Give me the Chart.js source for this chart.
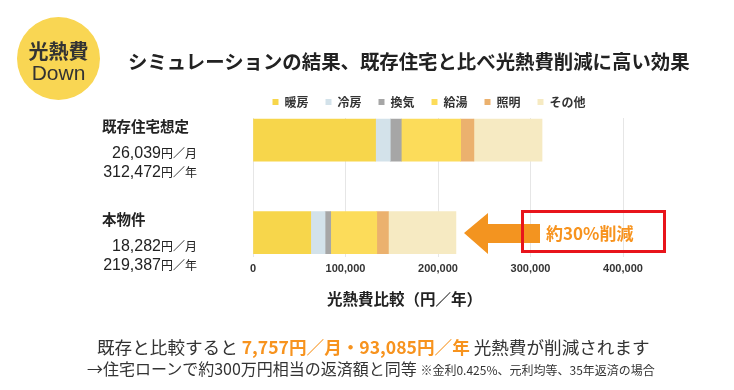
<!DOCTYPE html>
<html lang="ja">
<head>
<meta charset="utf-8">
<script src="https://cdn.jsdelivr.net/npm/chart.js@4"></script>
<style>
  html, body { margin: 0; padding: 0; background: #ffffff; }
  body { width: 734px; height: 390px; position: relative; overflow: hidden;
         font-family: "Noto Sans CJK JP", "Noto Sans", sans-serif; color: #333; }
  #wrap { position: absolute; left: 0; top: 0; width: 734px; height: 390px; }
  .abs { position: absolute; white-space: nowrap; line-height: 1; }
  #badge { position: absolute; left: 17px; top: 17px; width: 83px; height: 83px; border-radius: 50%;
           background: #F9D653; }
  #badge .l1 { position: absolute; left: 0; width: 83px; text-align: center; top: 19px; font-size: 20px; font-weight: 700; color: #333; }
  #badge .l2 { position: absolute; left: 0; width: 83px; text-align: center; top: 44px; font-size: 21px; font-family: "Liberation Sans", Arial, sans-serif; color: #333; }
  #title { left: 128px; top: 51px; font-size: 19.4px; font-weight: 700; color: #222; }
  .cat { font-size: 14.5px; font-weight: 700; color: #222; }
  .cost { font-family: "Liberation Sans", Arial, "Noto Sans CJK JP", sans-serif; font-size: 16px; color: #222; text-align: right; width: 100px; }
  .cost small { font-family: "Noto Sans CJK JP", sans-serif; font-size: 12px; }
  #axisTitle { left: 327px; top: 291px; font-size: 15.5px; font-weight: 700; color: #222; }
  #box { position: absolute; left: 521px; top: 210px; width: 139px; height: 37px; border: 3px solid #E8141B; }
  #boxText { left: 546px; top: 224px; font-size: 17px; font-weight: 700; color: #F7931E; }
  #line1 { left: 97px; top: 338px; font-size: 17.6px; color: #333; }
  #line1 b { color: #F7931E; }
  #line2 { left: 87px; top: 360px; font-size: 16px; color: #333; }
  #line2 small { font-size: 12px; }
</style>
</head>
<body>
<div id="wrap">
  <canvas id="chart" width="734" height="390"></canvas>
</div>
<div id="badge"><div class="l1">光熱費</div><div class="l2">Down</div></div>
<div id="title" class="abs">シミュレーションの結果、既存住宅と比べ光熱費削減に高い効果</div>
<div id="axisTitle" class="abs">光熱費比較（円／年）</div>
<svg class="abs" style="left:0;top:0" width="734" height="390">
  <polygon points="464,233 488,213 488,224 540,224 540,243 488,243 488,254" fill="#F39420"/>
</svg>
<div id="box"></div>
<div id="boxText" class="abs">約30%削減</div>
<div id="line1" class="abs">既存と比較すると <b>7,757円／月・93,085円／年</b> 光熱費が削減されます</div>
<div id="line2" class="abs">→住宅ローンで約300万円相当の返済額と同等 <small>※金利0.425%、元利均等、35年返済の場合</small></div>
<div id="catLabels"></div>

<script>
// ---- data ----
const categories = ['既存住宅想定', '本物件'];
const monthlyCost = ['26,039', '18,282'];
const annualCost = ['312,472', '219,387'];
const seriesNames = ['暖房', '冷房', '換気', '給湯', '照明', 'その他'];
const heating     = [132500, 62400];
const cooling     = [15900, 15500];
const ventilation = [11900, 6100];
const hotWater    = [64200, 49800];
const lighting    = [14300, 12600];
const other       = [73672, 72987];
const xTickValues = [0, 100000, 200000, 300000, 400000];

const seriesValues = [heating, cooling, ventilation, hotWater, lighting, other];
const seriesColors = ['#F7D64B', '#D3E2EA', '#A6A6A6', '#FCDC5A', '#EBB16E', '#F6EAC2'];

const datasets = seriesNames.map((name, s) => ({
  label: name,
  data: seriesValues[s].map((v, i) => ({ x: v, y: i })),
  backgroundColor: seriesColors[s],
  borderWidth: 0,
  barThickness: 42
}));

const chart = new Chart(document.getElementById('chart'), {
  type: 'bar',
  data: { datasets },
  options: {
    indexAxis: 'y',
    responsive: false,
    animation: false,
    devicePixelRatio: 1,
    layout: { padding: { left: 235, right: 111, top: 79, bottom: 108 } },
    plugins: {
      tooltip: { enabled: false },
      legend: {
        position: 'top',
        align: 'center',
        labels: {
          boxWidth: 6, boxHeight: 6, padding: 17,
          color: '#333',
          font: { family: '"Noto Sans CJK JP", sans-serif', size: 12, weight: 'bold' }
        }
      }
    },
    scales: {
      x: {
        type: 'linear',
        stacked: true,
        min: xTickValues[0],
        max: xTickValues[xTickValues.length - 1],
        afterBuildTicks: (scale) => { scale.ticks = xTickValues.map(v => ({ value: v })); },
        grid: { color: '#E6E6E6', lineWidth: 1, drawTicks: false },
        border: { display: false },
        ticks: {
          padding: 6,
          color: '#333',
          font: { family: '"Liberation Sans", Arial, sans-serif', size: 11, weight: 'bold' },
          callback: (v) => Number(v).toLocaleString('en-US')
        }
      },
      y: {
        type: 'linear',
        stacked: true,
        reverse: true,
        offset: false,
        min: -0.239,
        max: categories.length - 1 + 0.261,
        display: true,
        grid: { display: false, offset: false },
        border: { display: false },
        ticks: { display: false },
        afterFit: (scale) => { scale.width = 18; }
      }
    }
  }
});

// category labels beside each bar, positioned with the y scale
const yScale = chart.scales.y;
const holder = document.getElementById('catLabels');
categories.forEach((name, i) => {
  const cy = yScale.getPixelForValue(i);
  const n = document.createElement('div');
  n.className = 'abs cat';
  n.style.left = '102px';
  n.style.top = (cy - 21) + 'px';
  n.textContent = name;
  holder.appendChild(n);
  const m = document.createElement('div');
  m.className = 'abs cost';
  m.style.left = '97px';
  m.style.top = (cy + 5) + 'px';
  m.innerHTML = monthlyCost[i] + '<small>円／月</small>';
  holder.appendChild(m);
  const a = document.createElement('div');
  a.className = 'abs cost';
  a.style.left = '97px';
  a.style.top = (cy + 24) + 'px';
  a.innerHTML = annualCost[i] + '<small>円／年</small>';
  holder.appendChild(a);
});
</script>
</body>
</html>
